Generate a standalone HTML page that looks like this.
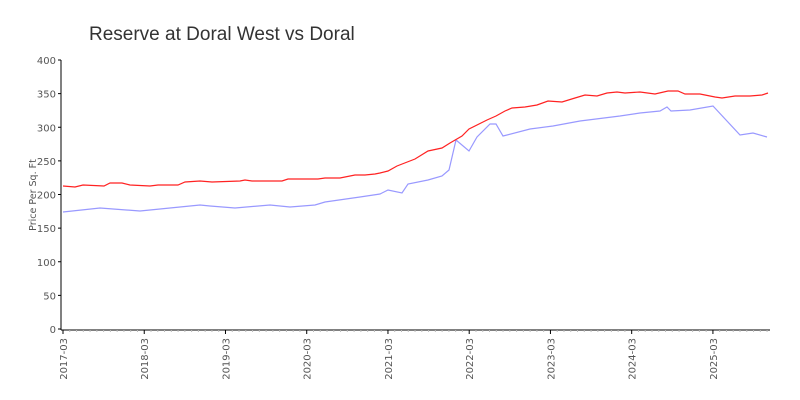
<!DOCTYPE html>
<html><head><meta charset="utf-8"><style>
body{margin:0;background:#fff;}
svg{display:block;font-family:"DejaVu Sans","Liberation Sans",sans-serif;}
</style></head><body>
<svg id="s" width="800" height="400" xmlns="http://www.w3.org/2000/svg">
<text x="89" y="40" font-size="19" fill="#333" font-family="Liberation Sans,sans-serif" font-weight="300">Reserve at Doral West vs Doral</text>
<text transform="translate(36,195) rotate(-90)" text-anchor="middle" font-size="9.5" fill="#555">Price Per Sq. Ft</text>
<g id="ax"></g>
<polyline fill="none" stroke="#9999ff" stroke-width="1.2" points="63,212 100,208 140,211 180,207 200,205 210,206 235,208 270,205 290,207 315,205 325,202 360,197 380,194 388,190 402,193 408,184 428,180 442,176 449,170 456,140 469,151 477,137 490,124 496,124 503,136 530,129 553,126 580,121 620,116 640,113 660,111 667,107 671,111 690,110 713,106 740,135 753,133 767,137"/>
<polyline fill="none" stroke="#ff2222" stroke-width="1.2" points="63,186 75,187 83,185 104,186 110,183 122,183 130,185 150,186 158,185 178,185 185,182 200,181 212,182 240,181 245,180 252,181 282,181 288,179 318,179 325,178 340,178 355,175 365,175 375,174 380,173 388,171 397,166 415,159 428,151 442,148 450,143 462,136 469,129 487,120 496,116 505,111 512,108 525,107 537,105 548,101 562,102 575,98 585,95 597,96 607,93 617,92 625,93 640,92 655,94 668,91 678,91 685,94 700,94 715,97 722,98 735,96 750,96 762,95 768,93"/>
</svg>
<script>
const X=m=>63+m*6.77, Y=v=>329-v*0.6725;
let ax='';
ax+='<line x1="61" y1="60" x2="61" y2="330" stroke="#000"/><line x1="61" y1="330" x2="770" y2="330" stroke="#000"/>';
for(let v=0;v<=400;v+=50){let y=Y(v);ax+=`<line x1="58" y1="${y}" x2="61" y2="${y}" stroke="#000"/><text x="56" y="${y+4}" text-anchor="end" font-size="10" fill="#555">${v}</text>`;}
for(let m=0;m<=104;m++){let x=X(m);if(m%12==0){ax+=`<line x1="${x}" y1="330" x2="${x}" y2="334" stroke="#000"/><text transform="translate(${x+4},338) rotate(-90)" text-anchor="end" font-size="10" fill="#555">${2017+m/12}-03</text>`;}else ax+=`<line x1="${x}" y1="330" x2="${x}" y2="332" stroke="#bbb"/>`;}
document.getElementById('ax').innerHTML=ax;
</script>
</body></html>
